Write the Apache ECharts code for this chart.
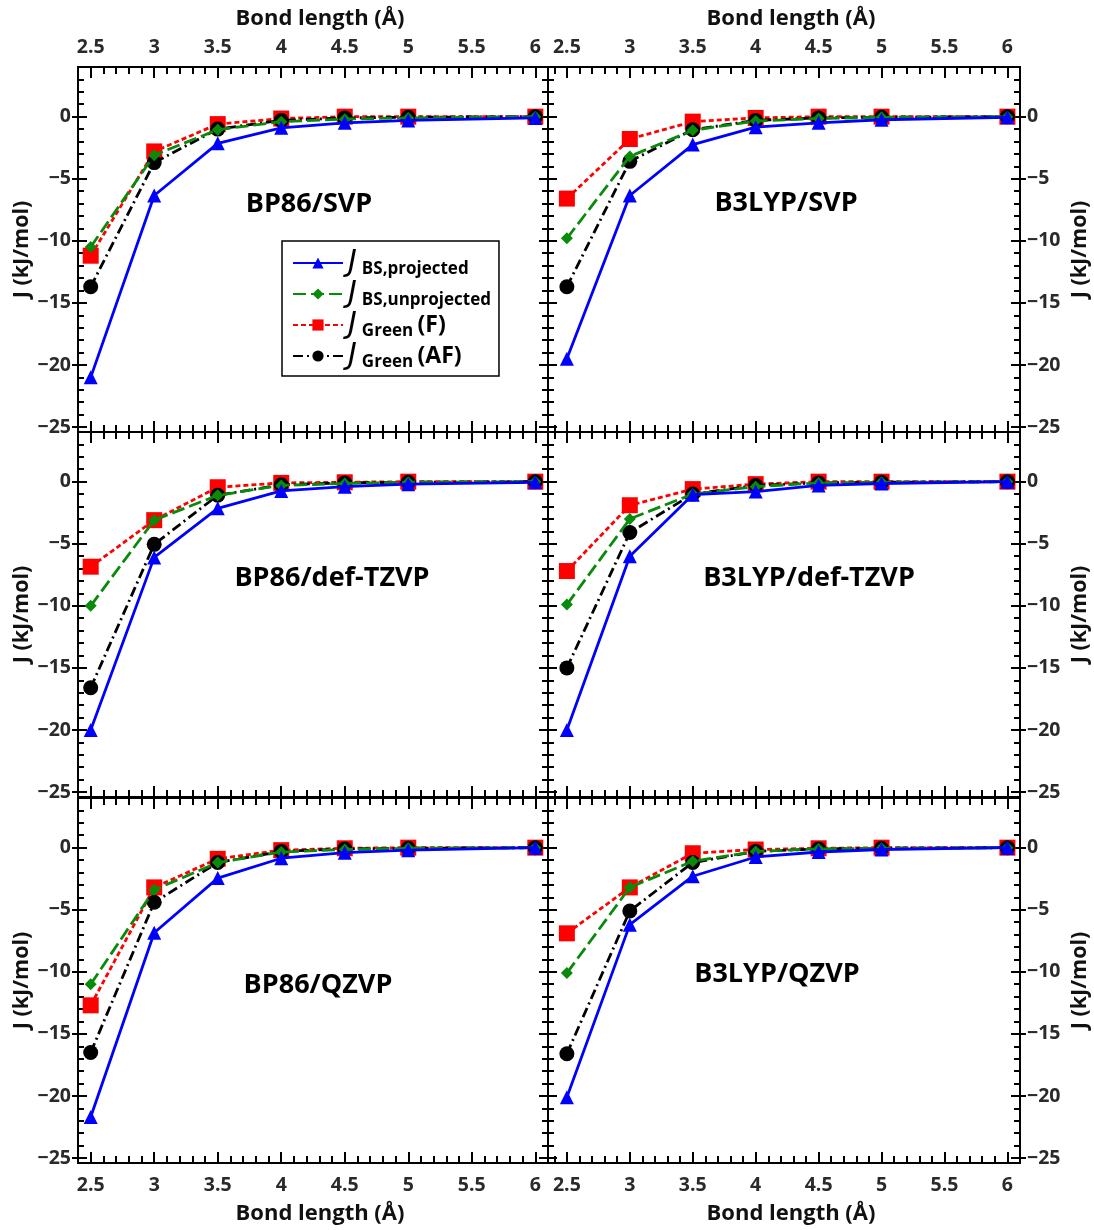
<!DOCTYPE html>
<html><head><meta charset="utf-8">
<script src="https://cdn.jsdelivr.net/npm/echarts@6/dist/echarts.min.js"></script>
<style>html,body{margin:0;padding:0;background:#fff}#c{width:1094px;height:1230px}</style>
</head><body><div id="c"></div>
<script>
// ---------------- data ----------------
const bondLengths = [2.5, 3, 3.5, 4, 4.5, 5, 6];
const panelTitles = ['BP86/SVP', 'B3LYP/SVP', 'BP86/def-TZVP', 'B3LYP/def-TZVP', 'BP86/QZVP', 'B3LYP/QZVP'];
const xTickLabels = [2.5, 3, 3.5, 4, 4.5, 5, 5.5, 6];
const yTickLabels = [0, -5, -10, -15, -20, -25];
const seriesNames = ['J_BS,projected', 'J_BS,unprojected', 'J_Green (F)', 'J_Green (AF)'];

// one row per panel (same order as panelTitles), one value per bond length
const jBsProjected = [
  [-21.0, -6.35, -2.15, -0.9, -0.5, -0.3, -0.1],
  [-19.5, -6.35, -2.25, -0.85, -0.5, -0.25, -0.05],
  [-20.0, -6.1, -2.15, -0.75, -0.4, -0.2, -0.05],
  [-20.0, -6.0, -1.05, -0.8, -0.3, -0.15, 0],
  [-21.7, -6.85, -2.45, -0.85, -0.4, -0.2, 0],
  [-20.1, -6.2, -2.3, -0.75, -0.35, -0.15, 0]
];
const jBsUnprojected = [
  [-10.5, -3.1, -1.05, -0.4, -0.2, -0.1, 0],
  [-9.8, -3.2, -1.1, -0.35, -0.15, -0.05, 0],
  [-10.0, -3.1, -1.1, -0.3, -0.15, -0.05, 0],
  [-9.9, -3.0, -1.0, -0.4, -0.1, -0.05, 0],
  [-11.0, -3.4, -1.2, -0.35, -0.15, -0.05, 0],
  [-10.1, -3.2, -1.1, -0.3, -0.1, -0.05, 0]
];
const jGreenF = [
  [-11.2, -2.8, -0.6, -0.15, 0, 0, 0],
  [-6.6, -1.8, -0.4, -0.1, 0, 0, 0],
  [-6.85, -3.1, -0.45, -0.1, -0.05, 0, 0],
  [-7.2, -1.9, -0.6, -0.2, 0, 0, 0],
  [-12.7, -3.2, -0.9, -0.2, -0.05, 0, 0],
  [-6.9, -3.2, -0.45, -0.15, -0.05, 0, 0]
];
const jGreenAF = [
  [-13.7, -3.7, -1.0, -0.3, -0.1, -0.05, 0],
  [-13.7, -3.6, -1.05, -0.3, -0.1, -0.05, 0],
  [-16.6, -5.05, -1.1, -0.25, -0.1, -0.05, 0],
  [-15.0, -4.1, -1.0, -0.3, -0.1, -0.05, 0],
  [-16.5, -4.4, -1.2, -0.3, -0.1, -0.05, 0],
  [-16.6, -5.1, -1.2, -0.3, -0.1, -0.05, 0]
];

// ---------------- layout / style ----------------
const FONT = "'Open Sans', 'Noto Sans', 'DejaVu Sans', sans-serif";
const rowTop = [67, 432, 798];
const rowH = 365;
const colLeft = [78, 548];
const colW = [470, 472];
const xRange = [[2.4, 6.1], [2.35, 6.1]];
const yMin = -25.4, yMax = 4;
const titlePos = [[309, 204], [786, 203], [332, 578], [809, 578], [318, 985], [777, 974]];

const xMinor = []; for (let k = 24; k <= 61; k++) xMinor.push(k / 10);
const yMinor = []; for (let k = -25; k <= 4; k++) yMinor.push(k);

const fmtNum = v => (v < 0 ? '\u2212' + Math.abs(v) : String(v));
const tickStyle = { color: '#000', width: 2 };
const lineStyleAxis = { color: '#000', width: 2 };
const labelStyle = { color: '#2a2a2a', fontFamily: FONT, fontWeight: 'bold', fontSize: 19.5 };
const xNameStyle = { color: '#111', fontFamily: FONT, fontWeight: 'bold', fontSize: 22, padding: [0, 0, 0, 14] };
const yNameStyle = { color: '#111', fontFamily: FONT, fontWeight: 'bold', fontSize: 21.5 };

const grid = [], xAxis = [], yAxis = [], series = [], graphic = [];

const styles = [
  { arr: jBsProjected, color: '#0000ff', symbol: 'triangle', size: 14, dash: 'solid', z: 5 },
  { arr: jBsUnprojected, color: '#0a8a0a', symbol: 'diamond', size: 12, dash: [13, 5], z: 4 },
  { arr: jGreenF, color: '#ff0000', symbol: 'rect', size: 16, dash: [5, 3], z: 2 },
  { arr: jGreenAF, color: '#000000', symbol: 'circle', size: 15, dash: [10, 4, 2, 4], z: 3 }
];

for (let p = 0; p < 6; p++) {
  const row = Math.floor(p / 2), col = p % 2;
  grid.push({ left: colLeft[col], top: rowTop[row], width: colW[col], height: rowH });
  const xb = { gridIndex: p, type: 'value', min: xRange[col][0], max: xRange[col][1],
    splitLine: { show: false }, axisLine: { show: true, onZero: false, lineStyle: lineStyleAxis } };
  const xMainIdx = xAxis.length;
  xAxis.push(Object.assign({}, xb, {
    position: 'top',
    axisTick: { show: true, inside: true, length: 11, customValues: xTickLabels, lineStyle: tickStyle },
    axisLabel: row === 0 ? Object.assign({ show: true, customValues: xTickLabels, margin: 10, formatter: v => String(v) }, labelStyle) : { show: false },
    name: row === 0 ? 'Bond length (\u00C5)' : '', nameLocation: 'middle', nameGap: 37, nameTextStyle: xNameStyle
  }));
  xAxis.push(Object.assign({}, xb, {
    position: 'top',
    axisTick: { show: true, inside: true, length: 7, customValues: xMinor, lineStyle: tickStyle },
    axisLabel: { show: false }
  }));
  xAxis.push(Object.assign({}, xb, {
    position: 'bottom',
    axisTick: { show: true, inside: true, length: 11, customValues: xTickLabels, lineStyle: tickStyle },
    axisLabel: row === 2 ? Object.assign({ show: true, customValues: xTickLabels, margin: 12, formatter: v => String(v) }, labelStyle) : { show: false },
    name: row === 2 ? 'Bond length (\u00C5)' : '', nameLocation: 'middle', nameGap: 40, nameTextStyle: xNameStyle
  }));
  xAxis.push(Object.assign({}, xb, {
    position: 'bottom',
    axisTick: { show: true, inside: true, length: 7, customValues: xMinor, lineStyle: tickStyle },
    axisLabel: { show: false }
  }));

  const yb = { gridIndex: p, type: 'value', min: yMin, max: yMax,
    splitLine: { show: false }, axisLine: { show: true, onZero: false, lineStyle: lineStyleAxis } };
  const yMainIdx = yAxis.length;
  const labeledSide = col === 0 ? 'left' : 'right';
  ['left', 'right'].forEach(side => {
    const labeled = side === labeledSide;
    yAxis.push(Object.assign({}, yb, {
      position: side,
      axisTick: { show: true, inside: true, length: 9, customValues: yTickLabels, lineStyle: tickStyle },
      axisLabel: labeled ? Object.assign({ show: true, customValues: yTickLabels, margin: 7, formatter: fmtNum }, labelStyle) : { show: false },
      name: labeled ? 'J (kJ/mol)' : '', nameLocation: 'middle', nameRotate: 90,
      nameGap: side === 'left' ? 45 : 49, nameTextStyle: yNameStyle
    }));
    yAxis.push(Object.assign({}, yb, {
      position: side,
      axisTick: { show: true, inside: true, length: 6, customValues: yMinor, lineStyle: tickStyle },
      axisLabel: { show: false }
    }));
    if (labeled) {
      yAxis.push(Object.assign({}, yb, {
        position: side,
        axisLine: { show: false, onZero: false },
        axisTick: { show: true, inside: false, length: 6, customValues: yTickLabels, lineStyle: tickStyle },
        axisLabel: { show: false }
      }));
    }
  });

  styles.forEach((s, k) => {
    series.push({
      type: 'line', name: seriesNames[k], xAxisIndex: xMainIdx, yAxisIndex: yMainIdx,
      data: bondLengths.map((x, i) => [x, s.arr[p][i]]),
      symbol: s.symbol, symbolSize: s.size, z: s.z,
      itemStyle: { color: s.color, borderWidth: 0 },
      lineStyle: { color: s.color, width: 2.8, type: s.dash },
      animation: false
    });
  });

  graphic.push({ type: 'text', x: titlePos[p][0], y: titlePos[p][1], z: 10,
    style: { text: panelTitles[p], align: 'center', verticalAlign: 'middle',
      font: "bold 27px 'Open Sans', 'Noto Sans', sans-serif", fill: '#000' } });
}

const legendRich = {
  j: { fontFamily: "'DejaVu Sans', sans-serif", fontStyle: 'italic', fontSize: 30, lineHeight: 30, color: '#000', verticalAlign: 'middle', padding: [0, 5, 0, 0] },
  s: { fontFamily: FONT, fontWeight: 'bold', fontSize: 17, lineHeight: 17, color: '#000', verticalAlign: 'bottom' },
  p: { fontFamily: FONT, fontWeight: 'bold', fontSize: 23, lineHeight: 28, color: '#000', verticalAlign: 'middle' }
};
const legendText = {
  'J_BS,projected': '{j|J}{s|BS,projected}',
  'J_BS,unprojected': '{j|J}{s|BS,unprojected}',
  'J_Green (F)': '{j|J}{s|Green }{p|(F)}',
  'J_Green (AF)': '{j|J}{s|Green }{p|(AF)}'
};

const chart = echarts.init(document.getElementById('c'), null, { renderer: 'canvas' });
chart.setOption({
  animation: false,
  backgroundColor: '#fff',
  grid, xAxis, yAxis, series, graphic,
  legend: {
    data: seriesNames, orient: 'vertical', left: 282, top: 241,
    borderColor: '#000', borderWidth: 1.5, padding: [7, 8, 5, 10],
    itemGap: 1, itemWidth: 50, itemHeight: 14,
    formatter: n => legendText[n],
    textStyle: { rich: legendRich }
  }
});
</script></body></html>
